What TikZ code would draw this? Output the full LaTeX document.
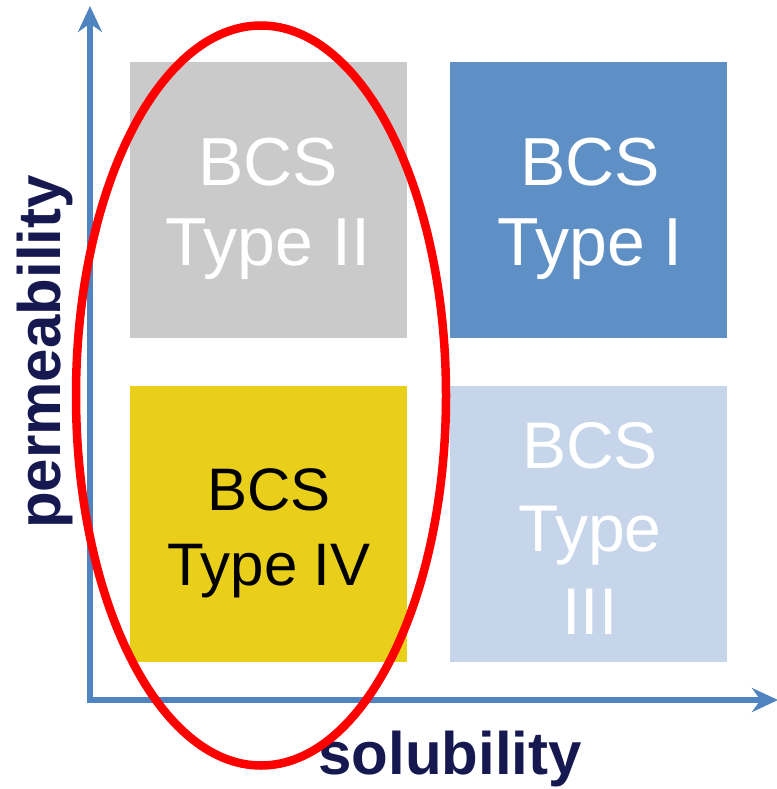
\documentclass[tikz,border=0pt]{standalone}
\usepackage{fontspec}
\setmainfont{Liberation Sans}
\usetikzlibrary{arrows.meta,shapes.geometric}
\definecolor{axisblue}{HTML}{4F84C0}
\definecolor{navy}{HTML}{15194F}
\definecolor{boxgray}{HTML}{CACACA}
\definecolor{boxblue}{HTML}{5E8FC5}
\definecolor{boxyellow}{HTML}{E9CF1A}
\definecolor{boxlight}{HTML}{C6D5EA}
\definecolor{ringred}{HTML}{FF0000}
\tikzset{
  quad/.style={draw=none, minimum width=277pt, minimum height=276pt, inner sep=0pt},
  boxlbl/.style={align=center, inner sep=0pt, text depth=0pt, font=\fontsize{68}{80}\selectfont},
  axislbl/.style={text=navy, inner sep=0pt, font=\fontsize{60}{60}\selectfont\bfseries},
  axisline/.style={draw=axisblue, line width=6pt, -{Stealth[length=26pt,width=24pt]}},
}
\begin{document}
\begin{tikzpicture}[x=1pt,y=-1pt]
\useasboundingbox (0,0) rectangle (776,789);
\fill[white] (0,0) rectangle (776,789);
% quadrants
\node[quad, fill=boxgray]   (q2) at (268.5,200) {};
\node[quad, fill=boxblue]   (q1) at (588.5,200) {};
\node[quad, fill=boxyellow] (q4) at (268.5,523.5) {};
\node[quad, fill=boxlight]  (q3) at (588.5,523.5) {};
% labels
\node[boxlbl, text=white] (t2) at (268,202) {BCS\\Type II};
\node[boxlbl, text=white] (t1) at (590,202) {BCS\\Type I};
\node[boxlbl, text=black, font=\fontsize{60}{75}\selectfont] (t4) at (269,527) {BCS\\Type IV};
\node[boxlbl, text=white, font=\fontsize{66}{83}\selectfont] (t3) at (590,528) {BCS\\Type\\III};
% axes
\coordinate (ytop) at (90,6);
\coordinate (ybot) at (90,703);
\coordinate (xend) at (778,700);
\coordinate (ostart) at (87,700);
\draw[axisline] (ostart) -- (xend);
\draw[axisline] (ybot) -- (ytop);
% axis labels
\node[axislbl, rotate=90] (yl) at (45,352) {permeability};
\node[axislbl] (xl) at (450,759) {solubility};
% red ellipse
\node[draw=ringred, line width=8.5pt, ellipse, minimum width=370pt, minimum height=740pt, inner sep=0pt] (ring) at (261,395.5) {};
\end{tikzpicture}
\end{document}
